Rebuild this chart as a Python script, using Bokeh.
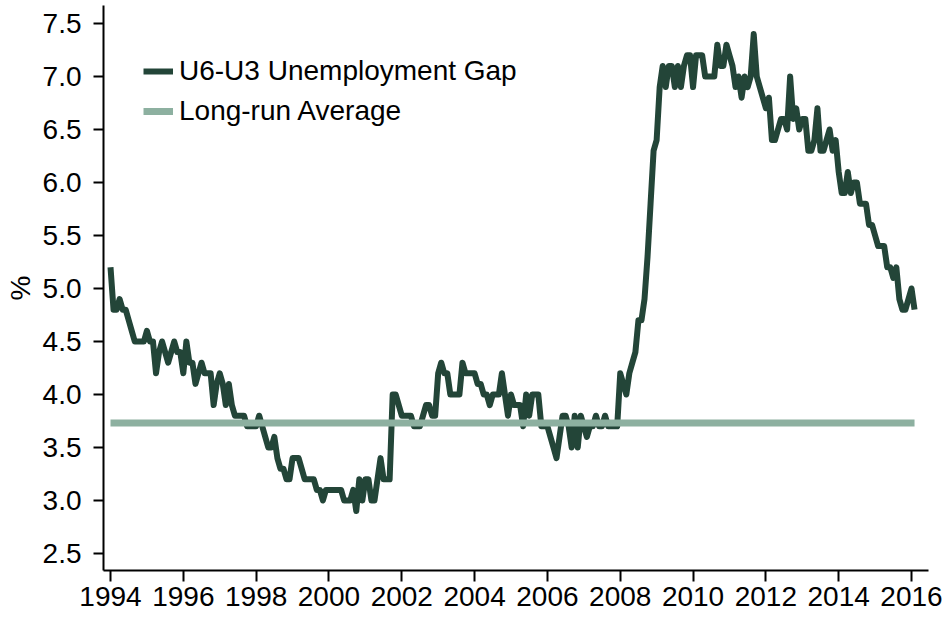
from bokeh.plotting import figure
from bokeh.models import (FixedTicker, NumeralTickFormatter, Legend, LegendItem,
                          Range1d)
from bokeh.embed import file_html
from bokeh.resources import INLINE

# ---- data: U6 minus U3 unemployment rate gap, monthly, Jan 1994 - Feb 2016 ----
start_year = 1994
gap_1994 = [5.2, 4.8, 4.8, 4.9, 4.8, 4.8, 4.7, 4.6, 4.5, 4.5, 4.5, 4.5]
gap_1995 = [4.6, 4.5, 4.5, 4.2, 4.4, 4.5, 4.4, 4.3, 4.4, 4.5, 4.4, 4.4]
gap_1996 = [4.2, 4.5, 4.3, 4.3, 4.1, 4.2, 4.3, 4.2, 4.2, 4.2, 3.9, 4.1]
gap_1997 = [4.2, 4.1, 3.9, 4.1, 3.9, 3.8, 3.8, 3.8, 3.8, 3.7, 3.7, 3.7]
gap_1998 = [3.7, 3.8, 3.7, 3.6, 3.5, 3.5, 3.6, 3.4, 3.3, 3.3, 3.2, 3.2]
gap_1999 = [3.4, 3.4, 3.4, 3.3, 3.2, 3.2, 3.2, 3.2, 3.1, 3.1, 3.0, 3.1]
gap_2000 = [3.1, 3.1, 3.1, 3.1, 3.1, 3.0, 3.0, 3.0, 3.1, 2.9, 3.2, 3.0]
gap_2001 = [3.2, 3.2, 3.0, 3.0, 3.2, 3.4, 3.2, 3.2, 3.2, 4.0, 4.0, 3.9]
gap_2002 = [3.8, 3.8, 3.8, 3.8, 3.7, 3.7, 3.7, 3.8, 3.9, 3.9, 3.8, 3.8]
gap_2003 = [4.2, 4.3, 4.2, 4.2, 4.0, 4.0, 4.0, 4.0, 4.3, 4.2, 4.2, 4.2]
gap_2004 = [4.2, 4.1, 4.1, 4.0, 4.0, 3.9, 4.0, 4.0, 4.0, 4.2, 4.0, 3.8]
gap_2005 = [4.0, 3.9, 3.9, 3.9, 3.7, 4.0, 3.8, 4.0, 4.0, 4.0, 3.7, 3.7]
gap_2006 = [3.7, 3.6, 3.5, 3.4, 3.6, 3.8, 3.8, 3.7, 3.5, 3.8, 3.5, 3.8]
gap_2007 = [3.7, 3.6, 3.7, 3.7, 3.8, 3.7, 3.7, 3.8, 3.7, 3.7, 3.7, 3.7]
gap_2008 = [4.2, 4.1, 4.0, 4.2, 4.3, 4.4, 4.7, 4.7, 4.9, 5.3, 5.8, 6.3]
gap_2009 = [6.4, 6.9, 7.1, 6.9, 7.1, 7.1, 6.9, 7.1, 6.9, 7.1, 7.2, 7.2]
gap_2010 = [6.9, 7.2, 7.2, 7.2, 7.0, 7.0, 7.0, 7.0, 7.3, 7.1, 7.1, 7.3]
gap_2011 = [7.2, 7.1, 6.9, 7.0, 6.8, 7.0, 6.9, 7.0, 7.4, 7.0, 6.9, 6.8]
gap_2012 = [6.7, 6.8, 6.4, 6.4, 6.5, 6.6, 6.6, 6.5, 7.0, 6.6, 6.7, 6.5]
gap_2013 = [6.6, 6.6, 6.3, 6.3, 6.4, 6.7, 6.3, 6.3, 6.4, 6.5, 6.3, 6.4]
gap_2014 = [6.1, 5.9, 5.9, 6.1, 5.9, 6.0, 6.0, 5.8, 5.8, 5.8, 5.6, 5.6]
gap_2015 = [5.5, 5.4, 5.4, 5.4, 5.2, 5.2, 5.1, 5.2, 4.9, 4.8, 4.8, 4.9]
gap_2016 = [5.0, 4.8]

long_run_average = 3.73

x_tick_years = [1994, 1996, 1998, 2000, 2002, 2004, 2006, 2008, 2010, 2012, 2014, 2016]
y_tick_values = [2.5, 3.0, 3.5, 4.0, 4.5, 5.0, 5.5, 6.0, 6.5, 7.0, 7.5]

series_label = "U6-U3 Unemployment Gap"
average_label = "Long-run Average"
y_axis_title = "%"

# ---- build ----
gap = (gap_1994 + gap_1995 + gap_1996 + gap_1997 + gap_1998 + gap_1999 + gap_2000
       + gap_2001 + gap_2002 + gap_2003 + gap_2004 + gap_2005 + gap_2006 + gap_2007
       + gap_2008 + gap_2009 + gap_2010 + gap_2011 + gap_2012 + gap_2013 + gap_2014
       + gap_2015 + gap_2016)
months = [start_year + i / 12.0 for i in range(len(gap))]

DARK = "#234538"
LIGHT = "#8DB0A0"
FONT = "Liberation Sans"
FS = "28px"

p = figure(width=944, height=618, output_backend="svg", toolbar_location=None,
           x_range=Range1d(1993.8077, 2016.4669),
           y_range=Range1d(2.3396, 7.6698),
           min_border_left=103, min_border_right=16, min_border_top=5,
           min_border_bottom=48)

p.background_fill_color = "white"
p.border_fill_color = "white"
p.outline_line_color = None
p.grid.visible = False

r_gap = p.line(months, gap, line_color=DARK, line_width=6, line_join="round")
r_avg = p.line([months[0], months[-1]], [long_run_average, long_run_average],
               line_color=LIGHT, line_width=7)

# axes
p.xaxis.ticker = FixedTicker(ticks=x_tick_years)
p.yaxis.ticker = FixedTicker(ticks=y_tick_values)
p.yaxis.formatter = NumeralTickFormatter(format="0.0")
for ax in (p.xaxis[0], p.yaxis[0]):
    ax.axis_line_color = "black"
    ax.axis_line_width = 2
    ax.major_tick_line_color = "black"
    ax.major_tick_line_width = 2
    ax.major_tick_in = 0
    ax.minor_tick_line_color = None
    ax.major_label_text_font = FONT
    ax.major_label_text_font_size = FS
    ax.major_label_text_color = "black"
p.xaxis.major_tick_out = 11
p.xaxis.major_label_standoff = 5
p.yaxis.major_tick_out = 10
p.yaxis.major_label_standoff = 12
p.yaxis.axis_label = y_axis_title
p.yaxis.axis_label_text_font = FONT
p.yaxis.axis_label_text_font_size = FS
p.yaxis.axis_label_text_font_style = "normal"
p.yaxis.axis_label_text_color = "black"
p.yaxis.axis_label_standoff = 4

legend = Legend(items=[LegendItem(label=series_label, renderers=[r_gap]),
                       LegendItem(label=average_label, renderers=[r_avg])],
                location=(40, 442))
legend.padding = 0
legend.margin = 0
legend.spacing = 6
legend.glyph_width = 30
legend.glyph_height = 34
legend.label_height = 34
legend.label_standoff = 6
legend.label_text_font = FONT
legend.label_text_font_size = FS
legend.label_text_color = "black"
legend.border_line_color = None
legend.background_fill_alpha = 0
p.add_layout(legend)

open("out.html", "w").write(file_html(p, INLINE))
